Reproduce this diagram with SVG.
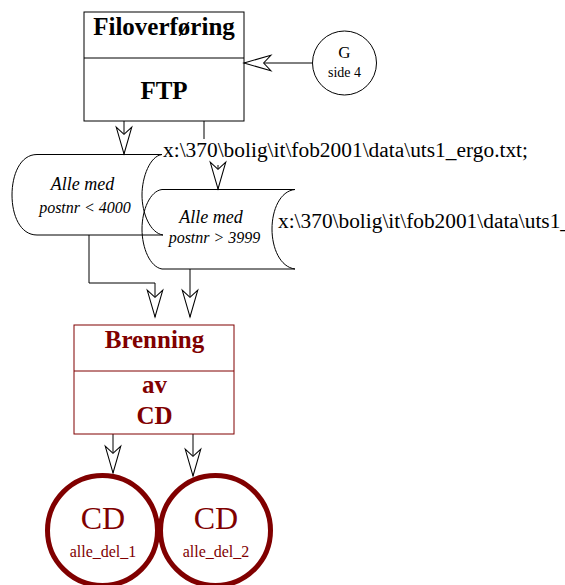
<svg xmlns="http://www.w3.org/2000/svg" width="565" height="585" viewBox="0 0 565 585">
<style>
  .blk { fill: none; stroke: #000; stroke-width: 1; }
  .red { fill: none; stroke: #800000; stroke-width: 1; }
  .t { font-family: "Liberation Serif", "Times New Roman", serif; text-anchor: middle; }
  .b { font-weight: bold; font-size: 25px; }
  .it { font-style: italic; }
  .dr { fill: #800000; }
  .lbl { font-family: "Liberation Serif", "Times New Roman", serif; font-size: 20px; }
  .conn { fill: none; stroke: #000; stroke-width: 1; marker-end: url(#arr); }
</style>
<defs>
  <marker id="arr" markerUnits="userSpaceOnUse" markerWidth="30" markerHeight="20" viewBox="-27 -9 29 18" refX="0" refY="0" orient="auto" overflow="visible">
    <path d="M0,0 L-26,-7.5 L-19,0 L-26,7.5 Z" fill="#fff" stroke="#000" stroke-width="1"/>
  </marker>
</defs>
<rect width="565" height="585" fill="#fff"/>

<g id="connectors">
  <path class="conn" d="M124,121 V154"/>
  <path class="blk" d="M204,121 V139"/>
  <path class="conn" d="M218,165 V189"/>
  <path class="conn" d="M312,63 H244"/>
  <path class="conn" d="M89,235 V283 H155 V317"/>
  <path class="conn" d="M190,269 V317"/>
  <path class="conn" d="M113,434 V473"/>
  <path class="conn" d="M193,434 V476"/>
</g>

<g id="filoverforing">
  <rect class="blk" x="84" y="12" width="160" height="109"/>
  <line class="blk" x1="84" y1="58" x2="244" y2="58"/>
  <text class="t b" x="164" y="35">Filoverføring</text>
  <text class="t b" x="164" y="99">FTP</text>
</g>

<g id="g-side4">
  <circle class="blk" cx="344.5" cy="63" r="32"/>
  <text class="t" x="344.5" y="58" font-size="17">G</text>
  <text class="t" x="344.5" y="77" font-size="14">side 4</text>
</g>

<g id="cyl1">
  <path class="blk" d="M37,154.5 C20,154.5 12,175 12,195 C12,215 20,235 37,235 M37,154.5 H162 C150,156 142,177 142,195 C142,213 150,233 163,235 H37"/>
  <text class="t it" x="82.5" y="190" font-size="18">Alle med</text>
  <text class="t it" x="85" y="212.5" font-size="16">postnr &lt; 4000</text>
</g>

<g id="cyl2">
  <path class="blk" d="M162,189.5 C150,191 142,210 142,229 C142,248 150,267 162,269 M162,189.5 H295 C280,191 272,210 272,229 C272,248 280,267 295,269 H162"/>
  <text class="t it" x="211" y="223" font-size="18">Alle med</text>
  <text class="t it" x="214.5" y="243" font-size="16">postnr &gt; 3999</text>
</g>

<g id="path-labels">
  <text class="lbl" x="163" y="157" textLength="365" lengthAdjust="spacingAndGlyphs">x:\370\bolig\it\fob2001\data\uts1_ergo.txt;</text>
  <text class="lbl" x="278" y="228" textLength="293" lengthAdjust="spacingAndGlyphs">x:\370\bolig\it\fob2001\data\uts1_</text>
</g>

<g id="brenning">
  <rect class="red" x="74" y="325" width="160" height="109"/>
  <line class="red" x1="74" y1="371" x2="234" y2="371"/>
  <text class="t b dr" x="154.5" y="348">Brenning</text>
  <text class="t b dr" x="154.5" y="393">av</text>
  <text class="t b dr" x="154.5" y="424">CD</text>
</g>

<g id="cd1">
  <circle cx="102.5" cy="530.5" r="55" fill="none" stroke="#800000" stroke-width="5"/>
  <text class="t dr" x="103" y="529" font-size="32">CD</text>
  <text class="t dr" x="103" y="557" font-size="16">alle_del_1</text>
</g>

<g id="cd2">
  <circle cx="215.5" cy="530.5" r="55" fill="none" stroke="#800000" stroke-width="5"/>
  <text class="t dr" x="216" y="529" font-size="32">CD</text>
  <text class="t dr" x="216" y="557" font-size="16">alle_del_2</text>
</g>
</svg>
